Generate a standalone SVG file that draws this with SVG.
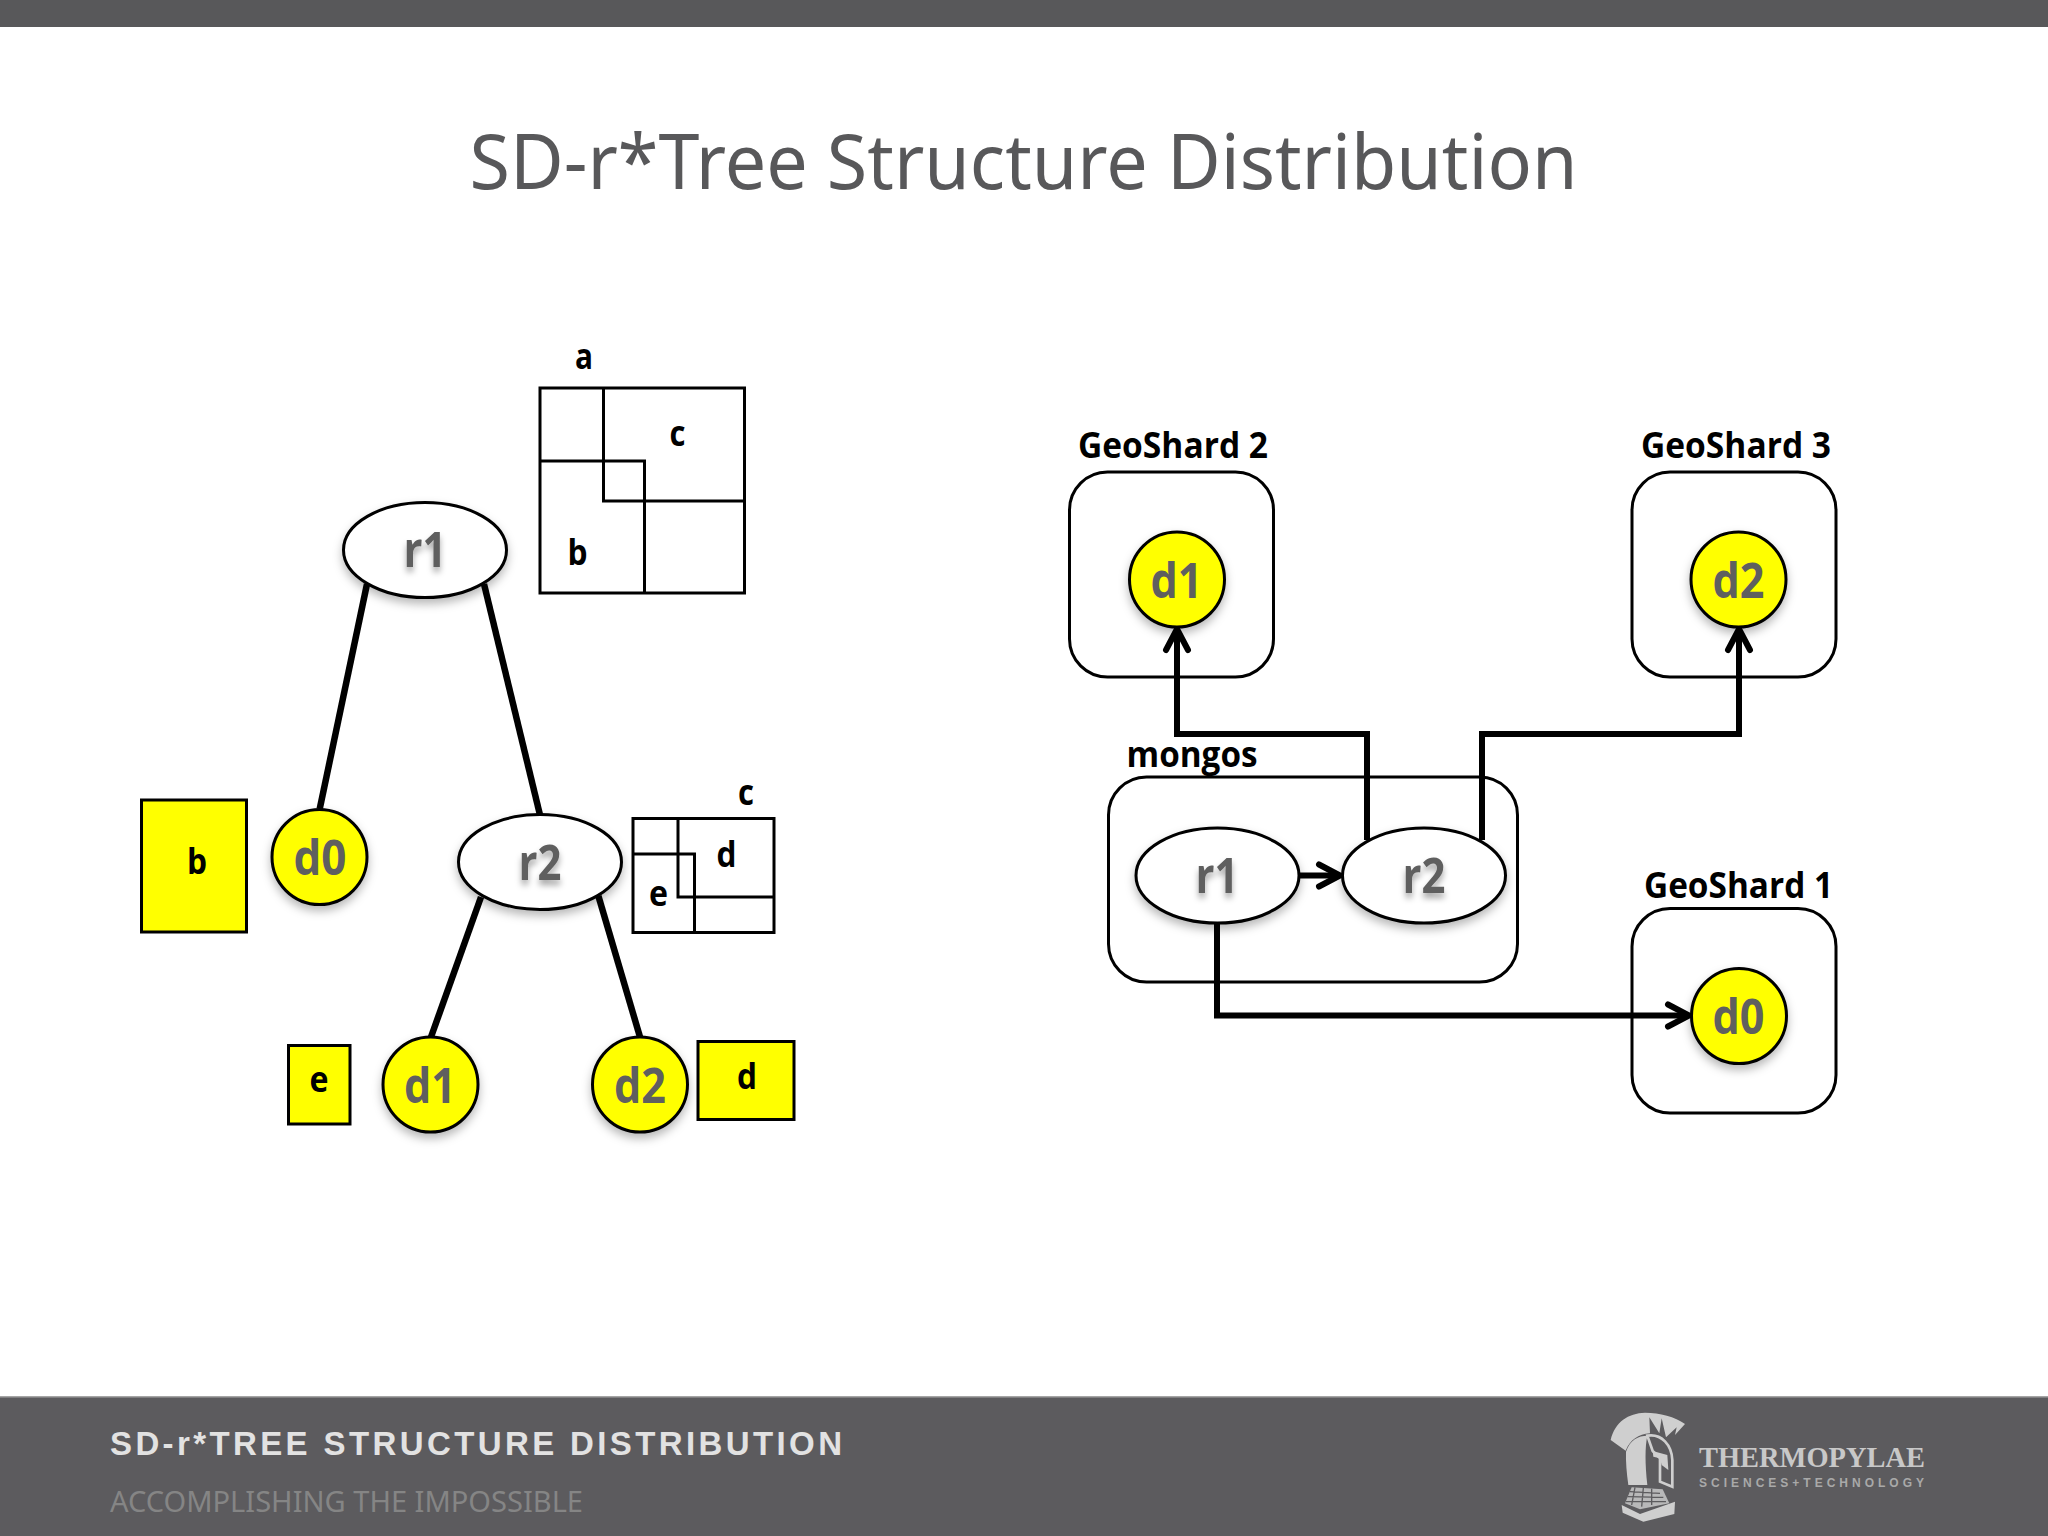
<svg xmlns="http://www.w3.org/2000/svg" width="2048" height="1536" viewBox="0 0 2048 1536">
<style>
.box{fill:none;stroke:#000;stroke-width:3}
.rbox{fill:none;stroke:#000;stroke-width:3}
.leaf{fill:#ff0;stroke:#000;stroke-width:3}
.dn{fill:#ff0;stroke:#000;stroke-width:3;filter:url(#sh)}
.rn{fill:#fff;stroke:#000;stroke-width:3;filter:url(#sh)}
.lb{font-family:"Open Sans","Liberation Sans",sans-serif;font-weight:700;font-size:36px;fill:#000;text-anchor:middle}
.gs{font-family:"Open Sans","Liberation Sans",sans-serif;font-weight:700;font-size:35px;fill:#000}
.nt{font-family:"Open Sans","Liberation Sans",sans-serif;font-weight:700;font-size:48px;fill:#5f5f5f;text-anchor:middle}
.sh{filter:url(#ts)}
.c{fill:none;stroke:#000;stroke-width:6;stroke-linejoin:miter}
.t{fill:none;stroke:#000;stroke-width:6.500}
.a{marker-end:url(#ah)}
.lg{fill:#cfcfcf}
</style>
<defs>
<filter id="sh" x="-30%" y="-30%" width="160%" height="170%"><feDropShadow dx="0" dy="5" stdDeviation="5" flood-color="#000" flood-opacity=".28"/></filter>
<filter id="ts" x="-30%" y="-30%" width="160%" height="170%"><feDropShadow dx="0" dy="5" stdDeviation="3" flood-color="#000" flood-opacity=".35"/></filter>
<marker id="ah" markerUnits="userSpaceOnUse" markerWidth="44" markerHeight="44" refX="33" refY="20" orient="auto" overflow="visible">
<path d="M12,9 L33,20 L12,31" fill="none" stroke="#000" stroke-width="6" stroke-linecap="round" stroke-linejoin="miter"/>
</marker>
</defs>
<rect width="2048" height="1536" fill="#fff"/>
<rect id="top-bar" width="2048" height="27" fill="#58585a"/>
<text id="title" x="1023.500" y="189" font-family="'Noto Sans','Open Sans',sans-serif" font-size="76" fill="#58585a" text-anchor="middle" textLength="1108" lengthAdjust="spacingAndGlyphs">SD-r*Tree Structure Distribution</text>

<g id="connectors">
<path class="t" d="M367,584 L319.700,809"/>
<path class="t" d="M484,584 L540,815"/>
<path class="t" d="M481,897 L431,1037"/>
<path class="t" d="M598.400,896 L640,1037"/>
<path class="c a" d="M1367,840 V734 H1177 V629"/>
<path class="c a" d="M1482,840 V734 H1739 V629"/>
<path class="c a" d="M1299,875.500 H1340"/>
<path class="c a" d="M1217,922 V1015.500 H1689"/>
</g>

<g id="region-a">
<rect class="box" x="540" y="388" width="204.500" height="205"/>
<path class="box" d="M603.500,388 V501 H744.500 M540,461 H644.500 V593"/>
<text class="lb" x="584" y="369" textLength="18" lengthAdjust="spacingAndGlyphs">a</text>
<text class="lb" x="677.500" y="446" textLength="16" lengthAdjust="spacingAndGlyphs">c</text>
<text class="lb" x="577.500" y="565" textLength="20" lengthAdjust="spacingAndGlyphs">b</text>
</g>
<g id="region-c">
<rect class="box" x="633" y="818.500" width="141" height="114"/>
<path class="box" d="M678,818.500 V897 H774 M633,854 H694.500 V932.500"/>
<text class="lb" x="746" y="804.500" textLength="16" lengthAdjust="spacingAndGlyphs">c</text>
<text class="lb" x="726.500" y="867" textLength="20" lengthAdjust="spacingAndGlyphs">d</text>
<text class="lb" x="658.500" y="906" textLength="19" lengthAdjust="spacingAndGlyphs">e</text>
</g>
<g id="tree-r1"><ellipse class="rn" cx="425" cy="550" rx="81.500" ry="47.500"/><text class="nt sh" x="425" y="567" textLength="43" lengthAdjust="spacingAndGlyphs">r1</text></g>
<g id="tree-r2"><ellipse class="rn" cx="540" cy="862" rx="81.500" ry="47.500"/><text class="nt sh" x="540" y="879.500" textLength="43" lengthAdjust="spacingAndGlyphs">r2</text></g>
<g id="tree-d0"><ellipse class="dn" cx="319.500" cy="857" rx="47.500" ry="47.500"/><text class="nt" x="320" y="875" textLength="53" lengthAdjust="spacingAndGlyphs">d0</text></g>
<g id="tree-d1"><ellipse class="dn" cx="430.500" cy="1084.500" rx="47.500" ry="47.500"/><text class="nt" x="430" y="1102.500" textLength="52" lengthAdjust="spacingAndGlyphs">d1</text></g>
<g id="tree-d2"><ellipse class="dn" cx="640" cy="1084.500" rx="47.500" ry="47.500"/><text class="nt" x="640" y="1102.500" textLength="52" lengthAdjust="spacingAndGlyphs">d2</text></g>
<g id="leaf-b"><rect class="leaf" x="141.500" y="800" width="105" height="132"/><text class="lb" x="197" y="874" textLength="20" lengthAdjust="spacingAndGlyphs">b</text></g>
<g id="leaf-e"><rect class="leaf" x="288.500" y="1045.500" width="61.500" height="78.500"/><text class="lb" x="319" y="1092" textLength="19" lengthAdjust="spacingAndGlyphs">e</text></g>
<g id="leaf-d"><rect class="leaf" x="698" y="1041.500" width="96" height="78"/><text class="lb" x="747" y="1089" textLength="20" lengthAdjust="spacingAndGlyphs">d</text></g>

<g id="geoshard2">
<rect class="rbox" x="1069.500" y="472" width="204" height="205" rx="38"/>
<text class="gs" x="1078" y="458" textLength="190" lengthAdjust="spacingAndGlyphs">GeoShard 2</text>
<ellipse class="dn" cx="1177" cy="579.500" rx="47.500" ry="47.500"/><text class="nt" x="1176.500" y="597.500" textLength="52" lengthAdjust="spacingAndGlyphs">d1</text>
</g>
<g id="geoshard3">
<rect class="rbox" x="1632" y="472" width="204" height="205" rx="38"/>
<text class="gs" x="1641" y="458" textLength="190" lengthAdjust="spacingAndGlyphs">GeoShard 3</text>
<ellipse class="dn" cx="1738.500" cy="579.500" rx="47.500" ry="47.500"/><text class="nt" x="1738.500" y="597.500" textLength="52" lengthAdjust="spacingAndGlyphs">d2</text>
</g>
<g id="geoshard1">
<rect class="rbox" x="1632" y="908.500" width="204" height="204.500" rx="38"/>
<text class="gs" x="1644" y="897.500" textLength="189" lengthAdjust="spacingAndGlyphs">GeoShard 1</text>
<ellipse class="dn" cx="1739" cy="1016" rx="47.500" ry="47.500"/><text class="nt" x="1738.500" y="1034" textLength="52" lengthAdjust="spacingAndGlyphs">d0</text>
</g>
<g id="mongos">
<rect class="rbox" x="1108.500" y="777" width="409" height="205" rx="38"/>
<text class="gs" x="1126.500" y="767" textLength="131" lengthAdjust="spacingAndGlyphs">mongos</text>
</g>
<g id="mongos-r1"><ellipse class="rn" cx="1217.500" cy="875.500" rx="81.500" ry="47.500"/><text class="nt sh" x="1217" y="892.500" textLength="43" lengthAdjust="spacingAndGlyphs">r1</text></g>
<g id="mongos-r2"><ellipse class="rn" cx="1424" cy="875.500" rx="81.500" ry="47.500"/><text class="nt sh" x="1424" y="892.500" textLength="43" lengthAdjust="spacingAndGlyphs">r2</text></g>

<g id="footer">
<rect y="1396" width="2048" height="140" fill="#5c5b5e"/>
<rect y="1396" width="2048" height="1.500" fill="#a5a5a5"/>
<text x="110" y="1455" font-family="'Liberation Sans',Arial,sans-serif" font-weight="700" font-size="33" fill="#e2e2e2" textLength="732" lengthAdjust="spacing">SD-r*TREE STRUCTURE DISTRIBUTION</text>
<text x="110" y="1512" font-family="'Noto Sans','Open Sans',sans-serif" font-size="29" fill="#858585" textLength="473" lengthAdjust="spacingAndGlyphs">ACCOMPLISHING THE IMPOSSIBLE</text>
</g>
<g id="logo">
<g transform="translate(1560,1390) scale(.33333)">
<path class="lg" d="M152,150 C165,95 205,70 255,68 C300,68 345,80 375,102 L345,135 L350,112 L318,142 L305,85 L298,130 L268,82 L270,130 C235,132 210,150 197,182 Z"/>
<path class="lg" d="M198,185 C210,150 235,137 262,137 C255,170 255,220 262,285 L205,285 C200,250 197,215 198,185 Z"/>
<path d="M262,137 C305,130 335,165 337,210 L337,290 L300,275 L300,205 L278,183 Z" fill="none" stroke="#cfcfcf" stroke-width="8"/>
<path class="lg" d="M278,183 L322,195 L325,240 L305,225 L300,205 L280,200 Z"/>
<path d="M215,292 L308,298 L328,340 L240,358 L195,340 Z" fill="#cfcfcf" opacity=".8"/>
<path d="M210,305 L300,310 M203,320 L310,322 M197,335 L318,335 M225,292 L215,345 M250,294 L245,350 M275,296 L275,345" stroke="#5c5b5e" stroke-width="4" fill="none"/>
<path class="lg" d="M185,345 L240,372 L345,335 L343,372 L250,395 L188,368 Z"/>
</g>
<text x="1699" y="1467" font-family="'Liberation Serif','Times New Roman',serif" font-size="30" font-weight="700" fill="#c8c8c8" textLength="226" lengthAdjust="spacingAndGlyphs">THERMOPYLAE</text>
<text x="1699" y="1486.500" font-family="'Liberation Sans',Arial,sans-serif" font-weight="700" font-size="12" fill="#a9a9a9" textLength="225" lengthAdjust="spacing">SCIENCES+TECHNOLOGY</text>
</g>
</svg>
